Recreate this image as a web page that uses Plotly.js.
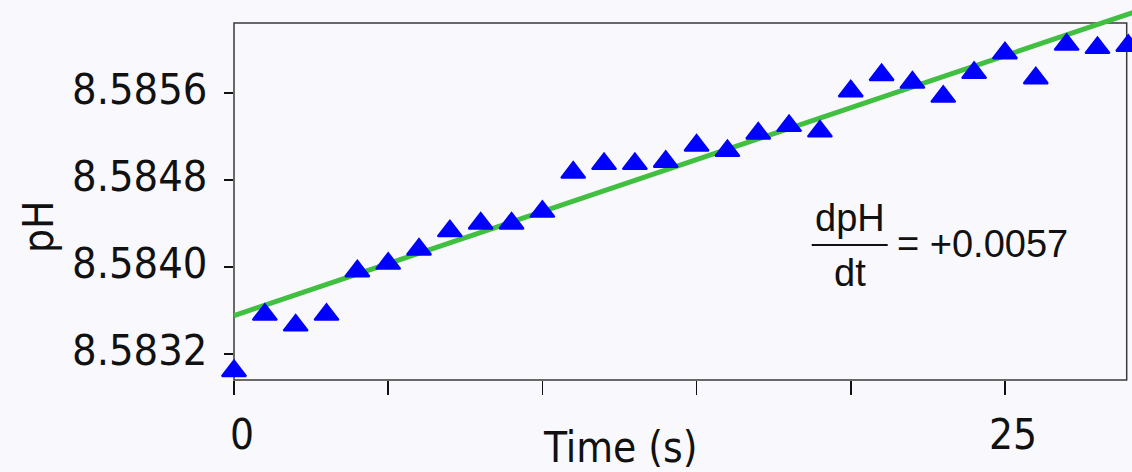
<!DOCTYPE html>
<html>
<head>
<meta charset="utf-8">
<script src="https://cdn.plot.ly/plotly-3.0.1.min.js"></script>
<style>
  html, body { margin: 0; padding: 0; background: #f9f9fd; }
  #chart { width: 1132px; height: 472px; }
</style>
</head>
<body>
<div id="chart"></div>
<script>
// ---- data ----
const time = [0, 1, 2, 3, 4, 5, 6, 7, 8, 9, 10, 11, 12, 13, 14, 15, 16, 17, 18, 19, 20, 21, 22, 23, 24, 25, 26, 27, 28, 29];
const pH = [8.58304, 8.58356, 8.58346, 8.58356, 8.58396, 8.58403, 8.58416, 8.58433, 8.58440, 8.58440,
            8.58451, 8.58487, 8.58495, 8.58495, 8.58497, 8.58512, 8.58507, 8.58523, 8.58530, 8.58525,
            8.58562, 8.58577, 8.58570, 8.58557, 8.58579, 8.58597, 8.58574, 8.58605, 8.58602, 8.58604];
const fitTime = [0, 29.2];
const fitPH = [8.58355, 8.58635];
const xTickVals = [0, 5, 10, 15, 20, 25];
const xTickText = ['0', '', '', '', '', '25'];
const yTickVals = [8.5832, 8.5840, 8.5848, 8.5856];
const yTickText = ['8.5832', '8.5840', '8.5848', '8.5856'];
const xTitle = 'Time (s)';
const yTitle = 'pH';
const eqNumerator = 'dpH';
const eqDenominator = 'dt';
const eqValue = '= +0.0057';

const axisFont = "Tahoma, 'DejaVu Sans Condensed', 'Liberation Sans', Arial, sans-serif";
const eqFont = "'Liberation Sans', Arial, sans-serif";
const bg = '#f9f9fd';

function px(x) { return (x - 234) / 898; }
function py(y) { return (380 - y) / 380; }

const traces = [
  {
    x: fitTime, y: fitPH, type: 'scatter', mode: 'lines',
    line: { color: '#40bf40', width: 5 }, hoverinfo: 'skip', showlegend: false
  },
  {
    x: time, y: pH, type: 'scatter', mode: 'markers',
    marker: { symbol: 'triangle-up', size: 21, color: '#0000ff', line: { color: '#0000ff', width: 2 } },
    cliponaxis: false, showlegend: false
  }
];

const layout = {
  width: 1132, height: 472,
  margin: { l: 234, r: 0, t: 0, b: 92, pad: 0 },
  paper_bgcolor: bg, plot_bgcolor: bg,
  showlegend: false,
  xaxis: {
    range: [0, 29.12], showgrid: false, zeroline: false, showline: false,
    ticks: 'outside', ticklen: 14, tickwidth: 1.5, tickcolor: '#111',
    tickmode: 'array', tickvals: xTickVals, ticktext: xTickText,
    tickfont: { family: axisFont, size: 42, color: '#111' },
    ticklabelshift: 8, ticklabelstandoff: 4
  },
  yaxis: {
    range: [8.582956, 8.586461], showgrid: false, zeroline: false, showline: false,
    ticks: 'outside', ticklen: 9, tickwidth: 2, tickcolor: '#111',
    tickmode: 'array', tickvals: yTickVals, ticktext: yTickText,
    tickfont: { family: axisFont, size: 43, color: '#111' },
    ticklabelshift: -4, ticklabelstandoff: 8
  },
  shapes: [
    { type: 'rect', xref: 'paper', yref: 'paper', x0: 0, x1: px(1126.7), y0: 0, y1: py(23),
      line: { color: '#3a3a3a', width: 1.5 }, fillcolor: 'rgba(0,0,0,0)', layer: 'below' },
    { type: 'line', xref: 'paper', yref: 'paper', x0: px(811.7), x1: px(887.7), y0: py(245), y1: py(245),
      line: { color: '#111', width: 2 } }
  ],
  annotations: [
    { text: xTitle, xref: 'paper', yref: 'paper', x: px(620), y: py(447), xanchor: 'center', yanchor: 'middle',
      showarrow: false, font: { family: axisFont, size: 42, color: '#111' } },
    { text: yTitle, xref: 'paper', yref: 'paper', x: px(38), y: py(227), xanchor: 'center', yanchor: 'middle',
      textangle: -90, showarrow: false, font: { family: axisFont, size: 42, color: '#111' } },
    { text: eqNumerator, xref: 'paper', yref: 'paper', x: px(850), y: py(218), xanchor: 'center', yanchor: 'middle',
      showarrow: false, font: { family: eqFont, size: 38, color: '#111' } },
    { text: eqDenominator, xref: 'paper', yref: 'paper', x: px(850), y: py(273), xanchor: 'center', yanchor: 'middle',
      showarrow: false, font: { family: eqFont, size: 38, color: '#111' } },
    { text: eqValue, xref: 'paper', yref: 'paper', x: px(895), y: py(244), xanchor: 'left', yanchor: 'middle',
      showarrow: false, font: { family: eqFont, size: 38, color: '#111' } }
  ]
};

Plotly.newPlot('chart', traces, layout, { displayModeBar: false, staticPlot: true });
</script>
</body>
</html>
